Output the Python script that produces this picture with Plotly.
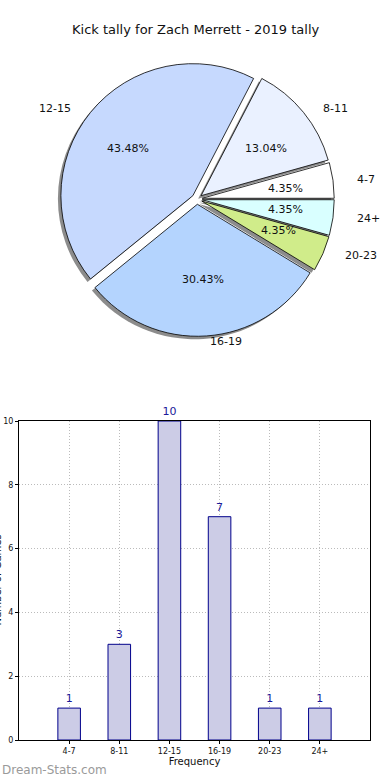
import math
import plotly.graph_objects as go

# ---- data ----
categories = ["4-7", "8-11", "12-15", "16-19", "20-23", "24+"]
counts = [1, 3, 10, 7, 1, 1]
title_text = "Kick tally for Zach Merrett - 2019 tally"
x_title = "Frequency"
y_title = "Number of Games"
watermark = "Dream-Stats.com"

# ---- style ----
slice_colors = ["#ffffff", "#eaf1ff", "#c6d9fe", "#b4d4fe", "#d0ec8a", "#d9ffff"]
bar_fill = "#ccccE6"
bar_edge = "#00008b"
FONT = "DejaVu Sans"
W, H = 390, 780

# pie geometry (pixels)
cx, cy = 197, 199
r = 132
pull = 0.04
half = r * (1 + pull)
dom_x = [(cx - half) / W, (cx + half) / W]
dom_y = [1 - (cy + half) / H, 1 - (cy - half) / H]
sh_dx, sh_dy = -3, 3  # shadow offset in px (left, down)

total = sum(counts)
# plotly places the first counterclockwise slice ending at `rotation`;
# shift so the first slice starts at 3 o'clock
rot = 90 - 360 * counts[0] / total

fig = go.Figure()

# shadow pie
fig.add_trace(go.Pie(
    labels=categories, values=counts, sort=False, direction="counterclockwise",
    rotation=rot, pull=[pull] * len(counts), textinfo="none", hoverinfo="skip",
    marker=dict(colors=["rgba(0,0,0,0.45)"] * len(counts), line=dict(width=0)),
    domain=dict(x=[dom_x[0] + sh_dx / W, dom_x[1] + sh_dx / W],
                y=[dom_y[0] - sh_dy / H, dom_y[1] - sh_dy / H]),
    showlegend=False,
))
# main pie
fig.add_trace(go.Pie(
    labels=categories, values=counts, sort=False, direction="counterclockwise",
    rotation=rot, pull=[pull] * len(counts), textinfo="none",
    marker=dict(colors=slice_colors, line=dict(color="black", width=0.8)),
    domain=dict(x=dom_x, y=dom_y), showlegend=False,
))

# labels and percentages placed along each slice's mid-angle
cum = 0
rx_l, ry_l = 140, 125
annotations = []
for cat, v in zip(categories, counts):
    frac = v / total
    mid = math.radians((cum + frac / 2) * 360)
    cum += frac
    c, s = math.cos(mid), math.sin(mid)
    off = pull * r
    px = cx + (off + 0.6 * rx_l) * c
    py = cy - (off + 0.6 * ry_l) * s
    annotations.append(dict(x=px / W, y=1 - py / H, xref="paper", yref="paper",
                            text=f"{100 * frac:.2f}%", showarrow=False,
                            font=dict(family=FONT, size=11, color="#111111"),
                            xanchor="center", yanchor="middle"))
    lx = cx + (off + 1.1 * rx_l) * c
    ly = cy - (off + 1.1 * ry_l) * s
    annotations.append(dict(x=lx / W, y=1 - ly / H, xref="paper", yref="paper",
                            text=cat, showarrow=False,
                            font=dict(family=FONT, size=11, color="#111111"),
                            xanchor="left" if c >= 0 else "right", yanchor="middle"))

# bar chart
fig.add_trace(go.Bar(
    x=categories, y=counts, width=0.45,
    marker=dict(color=bar_fill, line=dict(color=bar_edge, width=1)),
    text=[str(c) for c in counts], textposition="outside", cliponaxis=False,
    textfont=dict(family=FONT, size=11, color="#1a1a9a"),
    constraintext="none", showlegend=False, hoverinfo="x+y",
    xaxis="x", yaxis="y",
))

annotations.append(dict(x=-3 / W, y=0.5 * (0.0513 + 0.4603), xref="paper", yref="paper",
                        text=y_title, textangle=-90, showarrow=False,
                        font=dict(family=FONT, size=10, color="#111111"),
                        xanchor="center", yanchor="middle"))
annotations.append(dict(x=0, y=1 - 770 / H, xref="paper", yref="paper",
                        text=watermark, showarrow=False,
                        font=dict(family=FONT, size=12, color="#9a9a9a"),
                        xanchor="left", yanchor="middle"))
annotations.append(dict(x=0.5, y=1 - 30 / H, xref="paper", yref="paper",
                        text=title_text, showarrow=False,
                        font=dict(family=FONT, size=13, color="#111111"),
                        xanchor="center", yanchor="middle"))

grid_dash = "1px,2px"
fig.update_layout(
    width=W, height=H, margin=dict(l=0, r=0, t=0, b=0, autoexpand=False),
    paper_bgcolor="white", plot_bgcolor="white",
    font=dict(family=FONT, color="#111111"),
    annotations=annotations,
    xaxis=dict(domain=[19 / W, 370 / W], anchor="y", type="category",
               range=[-1, 6], showline=True, mirror=True, linecolor="black",
               linewidth=1, showgrid=True, gridcolor="#bbbbbb", griddash=grid_dash,
               gridwidth=1, ticks="outside", ticklen=3, tickcolor="black",
               tickfont=dict(size=8, family=FONT, color="#111111"),
               title=dict(text=x_title, font=dict(size=10, family=FONT), standoff=2),
               zeroline=False, fixedrange=True, automargin=False),
    yaxis=dict(domain=[1 - 740 / H, 1 - 421 / H], anchor="x", range=[0, 10],
               dtick=2, showline=True, mirror=True, linecolor="black",
               linewidth=1, showgrid=True, gridcolor="#bbbbbb", griddash=grid_dash,
               gridwidth=1, ticks="outside", ticklen=3, tickcolor="black",
               tickfont=dict(size=8, family=FONT, color="#111111"),
               zeroline=False, fixedrange=True, automargin=False),
)

fig.write_html("out.html", config={"displayModeBar": False},
               post_script="document.body.style.margin='0';document.body.style.overflow='hidden';")
